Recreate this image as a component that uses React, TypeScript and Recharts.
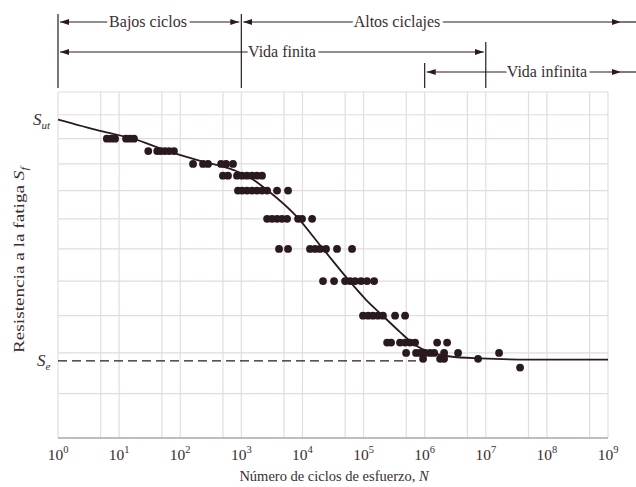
import React from 'react';
import { ComposedChart, Line, Scatter, XAxis, YAxis, CartesianGrid } from 'recharts';

const W = 636;
const H = 487;
const M = { top: 92, right: 28, left: 58, bottom: 49 };

// axis ticks (grid lines at 1 and 5 of each decade, S levels 10..21)
const xTicks = [1, 5, 10, 50, 100, 500, 1e3, 5e3, 1e4, 5e4, 1e5, 5e5, 1e6, 5e6, 1e7, 5e7, 1e8, 5e8, 1e9];
const yTicks = [10, 11, 12, 13, 14, 15, 16, 17, 18, 19, 20, 21];

const SUT = 19.79;
const SE = 11.8;

// fitted S-N curve (N, S)
const curveN = [1, 4.87, 16.9, 60.8, 211, 731, 1240, 2636, 7855, 20940, 60100, 109900, 208400, 395500, 696600, 1.225e6, 2.61e6, 8.07e6, 5.31e7, 1e9];
const curveS = [19.79, 19.32, 19.0, 18.51, 18.12, 17.77, 17.55, 17.02, 16.1, 15.04, 13.98, 13.45, 12.99, 12.55, 12.21, 12.02, 11.91, 11.86, 11.83, 11.83];

// test results, one row of N values per stress level
const rowLevels = [19.0, 18.5, 18.0, 17.55, 17.0, 16.0, 15.0, 14.0, 13.0, 12.27, 12.0, 11.85, 11.63];
const rowN = [
  [6.3, 7.4, 8.6, 13, 15, 17.5],
  [30, 42, 48, 56, 66, 79],
  [162, 236, 285, 466, 562, 731],
  [500, 605, 850, 1030, 1240, 1500, 1800, 2180],
  [880, 1030, 1240, 1500, 1800, 2180, 2640, 3840, 5810],
  [2640, 3180, 3840, 4630, 5600, 8470, 9840, 14400],
  [4140, 5810, 13300, 16100, 19400, 24300, 36800, 64800],
  [21700, 32900, 49800, 60100, 72600, 91000, 114000, 149000],
  [98000, 119000, 143000, 173000, 208000, 328000, 478000],
  [243000, 282000, 395000, 478000, 577000, 697000, 1.6e6, 2.33e6],
  [497000, 723000, 841000, 1.01e6, 1.22e6, 1.43e6, 2.08e6, 3.52e6, 1.65e7],
  [942000, 1.79e6, 2.08e6, 7.48e6],
  [3.64e7],
];

const seEndN = 7.2e5;

const curve = curveN.map((n, i) => ({ n, s: curveS[i] }));
const dots = rowN.flatMap((ns, i) => ns.map((n) => ({ n, s: rowLevels[i] })));
const seLine = [{ n: 1, s: SE }, { n: seEndN, s: SE }];

const FONT = '"Liberation Serif", "DejaVu Serif", serif';
const INK = '#2b1a1d';
const TEXT = '#3a2e30';

const plotW = W - M.left - M.right;
const plotH = H - M.top - M.bottom;
const px = (n: number) => M.left + (Math.log10(n) / 9) * plotW;
const py = (s: number) => M.top + ((Math.log10(21) - Math.log10(s)) / (Math.log10(21) - 1)) * plotH;

const XTick = (props: any) => {
  const { x, y, payload } = props;
  const e = Math.log10(payload.value);
  if (Math.abs(e - Math.round(e)) > 1e-6) return <g />;
  return (
    <text x={x} y={y + 14} textAnchor="middle" fontFamily={FONT} fontSize={15.5} fill={TEXT}>
      10<tspan fontSize={10.5} dy={-7}>{Math.round(e)}</tspan>
    </text>
  );
};

const NoTick = () => <g />;

const Arrow = ({ x1, x2, y, left = true, right = true }: any) => (
  <line
    x1={x1}
    x2={x2}
    y1={y}
    y2={y}
    stroke={INK}
    strokeWidth={1.2}
    markerStart={left ? 'url(#ahs)' : undefined}
    markerEnd={right ? 'url(#ahe)' : undefined}
  />
);

const Label = ({ x, y, children }: any) => (
  <text
    x={x}
    y={y}
    textAnchor="middle"
    fontFamily={FONT}
    fontSize={16}
    fill={TEXT}
    stroke="#fff"
    strokeWidth={7}
    paintOrder="stroke"
  >
    {children}
  </text>
);

const Overlay = () => {
  const x0 = px(1);
  const x3 = px(1e3);
  const x6 = px(1e6);
  const x7 = px(1e7);
  const r1 = 22;
  const r2 = 52;
  const r3 = 72;
  const tipEnd = 621;
  return (
    <svg width={W} height={H} style={{ position: 'absolute', left: 0, top: 0, pointerEvents: 'none' }}>
      <defs>
        <marker id="ahe" markerUnits="userSpaceOnUse" markerWidth={9} markerHeight={6} refX={9} refY={3} orient="auto">
          <path d="M0,0 L9,3 L0,6 z" fill={INK} />
        </marker>
        <marker id="ahs" markerUnits="userSpaceOnUse" markerWidth={9} markerHeight={6} refX={0} refY={3} orient="auto">
          <path d="M9,0 L0,3 L9,6 z" fill={INK} />
        </marker>
      </defs>
      {/* vertical markers */}
      <line x1={x0} x2={x0} y1={14} y2={88} stroke={INK} strokeWidth={1.2} />
      <line x1={x3} x2={x3} y1={14} y2={88} stroke={INK} strokeWidth={1.2} />
      <line x1={x7} x2={x7} y1={42} y2={88} stroke={INK} strokeWidth={1.2} />
      <line x1={x6} x2={x6} y1={63} y2={88} stroke={INK} strokeWidth={1.2} />

      <Arrow x1={x0 + 2} x2={x3 - 2} y={r1} />
      <Label x={148} y={r1 + 5}>Bajos ciclos</Label>
      <Arrow x1={x3 + 2} x2={tipEnd} y={r1} />
      <line x1={tipEnd} x2={W} y1={r1} y2={r1} stroke={INK} strokeWidth={1.2} />
      <Label x={397} y={r1 + 5}>Altos ciclajes</Label>

      <Arrow x1={x0 + 2} x2={x7 - 2} y={r2} />
      <Label x={282} y={r2 + 5}>Vida finita</Label>

      <Arrow x1={x6 + 2} x2={tipEnd} y={r3} />
      <line x1={tipEnd} x2={W} y1={r3} y2={r3} stroke={INK} strokeWidth={1.2} />
      <Label x={547} y={r3 + 5}>Vida infinita</Label>

      {/* y labels */}
      <text x={33} y={py(SUT) + 5} fontFamily={FONT} fontSize={17} fontStyle="italic" fill={TEXT}>
        S<tspan fontSize={11} dy={4}>ut</tspan>
      </text>
      <text x={37} y={py(SE) + 5} fontFamily={FONT} fontSize={17} fontStyle="italic" fill={TEXT}>
        S<tspan fontSize={11} dy={4}>e</tspan>
      </text>
      <text
        transform={`translate(24, 260) rotate(-90)`}
        textAnchor="middle"
        fontFamily={FONT}
        fontSize={15}
        fill={TEXT}
        textLength={186}
        lengthAdjust="spacingAndGlyphs"
      >
        Resistencia a la fatiga <tspan fontStyle="italic">S</tspan>
        <tspan fontStyle="italic" fontSize={10} dy={4}>f</tspan>
      </text>

      {/* x title */}
      <text x={334} y={481} textAnchor="middle" fontFamily={FONT} fontSize={14.5} fill={TEXT}>
        Número de ciclos de esfuerzo, <tspan fontStyle="italic">N</tspan>
      </text>
    </svg>
  );
};

export default function App() {
  return (
    <div style={{ position: 'absolute', left: 0, top: 0, width: W, height: H, background: '#fff' }}>
      <ComposedChart width={W} height={H} margin={{ top: M.top, right: M.right, left: M.left, bottom: 0 }}>
        <CartesianGrid stroke="#e2dcdd" strokeWidth={1.2} />
        <XAxis
          dataKey="n"
          type="number"
          scale="log"
          domain={[1, 1e9]}
          ticks={xTicks}
          interval={0}
          allowDataOverflow
          height={M.bottom}
          tickLine={false}
          axisLine={{ stroke: '#b3abad', strokeWidth: 1.5 }}
          tick={<XTick />}
        />
        <YAxis
          dataKey="s"
          type="number"
          scale="log"
          domain={[10, 21]}
          ticks={yTicks}
          interval={0}
          allowDataOverflow
          width={0}
          tick={<NoTick />}
          tickLine={false}
          axisLine={{ stroke: '#b3abad', strokeWidth: 1.5 }}
        />
        <Line
          data={seLine}
          dataKey="s"
          type="linear"
          stroke={INK}
          strokeWidth={1.2}
          strokeDasharray="9 5"
          dot={false}
          isAnimationActive={false}
        />
        <Scatter
          data={dots}
          fill={INK}
          isAnimationActive={false}
          shape={(p: any) => <circle cx={p.cx} cy={p.cy} r={3.9} fill={INK} />}
        />
        <Line
          data={curve}
          dataKey="s"
          type="monotone"
          stroke={INK}
          strokeWidth={1.8}
          dot={false}
          isAnimationActive={false}
        />
      </ComposedChart>
      <Overlay />
    </div>
  );
}
